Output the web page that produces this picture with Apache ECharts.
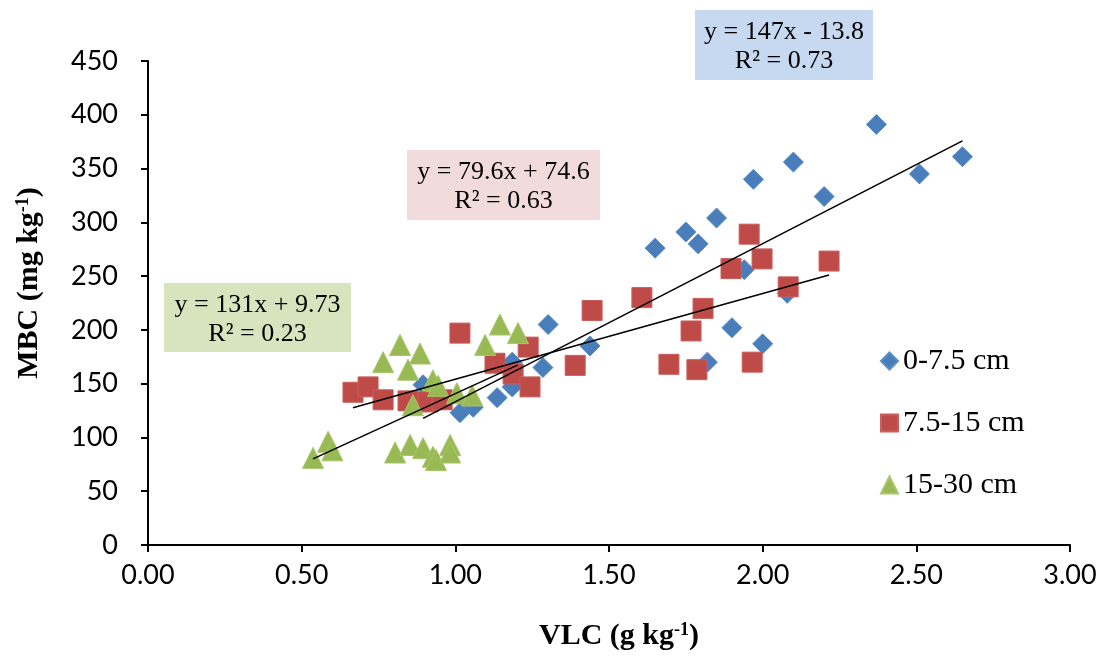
<!DOCTYPE html>
<html>
<head>
<meta charset="utf-8">
<script src="https://cdn.jsdelivr.net/npm/echarts@6/dist/echarts.min.js"></script>
<style>html,body{margin:0;padding:0;background:#fff;}#c{width:1102px;height:661px;}</style>
</head>
<body>
<div id="c"></div>
<script>
// ---- data ----
const seriesNames = ['0-7.5 cm', '7.5-15 cm', '15-30 cm'];
const vlc0 = [0.895,1.015,1.058,1.136,1.185,1.185,1.285,1.302,1.438,1.65,1.75,1.79,1.85,1.82,1.90,1.94,2.00,1.97,2.08,2.10,2.20,2.37,2.51,2.65];
const mbc0 = [149,123,128,137,147,170,165,205,185,276,291,280,304,170,202,256,187,340,234,356,324,391,345,361];
const vlc1 = [0.667,0.716,0.765,0.846,0.911,0.957,1.015,1.129,1.188,1.237,1.243,1.39,1.445,1.607,1.695,1.767,1.786,1.806,1.897,1.956,1.966,1.998,2.083,2.216];
const mbc1 = [142,147,135,134,133,135,197,169,159,184,147,167,218,230,168,199,163,220,257,289,170,266,240,264];
const vlc2 = [0.537,0.586,0.60,0.765,0.804,0.82,0.846,0.853,0.862,0.885,0.895,0.927,0.944,0.927,0.937,0.983,0.983,1.005,1.055,1.097,1.145,1.204];
const mbc2 = [81,96,88,170,86,186,163,93,130,178,90,153,148,82,79,93,86,141,139,186,205,197];
const slopes = [147, 79.6, 131];
const intercepts = [-13.8, 74.6, 9.73];
const eqTexts = ['y = 147x - 13.8', 'y = 79.6x + 74.6', 'y = 131x + 9.73'];
const r2Texts = ['R² = 0.73', 'R² = 0.63', 'R² = 0.23'];
const xTicks = [0, 0.5, 1, 1.5, 2, 2.5, 3];
const yTicks = [0, 50, 100, 150, 200, 250, 300, 350, 400, 450];

// ---- build ----
const xs = [vlc0, vlc1, vlc2];
const ys = [mbc0, mbc1, mbc2];
const colors = ['#4a7ebb', '#be4b48', '#98b954'];
const borders = ['#5a8cc6', '#c95e5b', '#a8c66a'];
const symbols = ['diamond', 'rect', 'triangle'];
const sizes = [20, 20, 21];

const series = [];
for (let i = 0; i < 3; i++) {
  series.push({
    name: seriesNames[i], type: 'scatter', symbol: symbols[i], symbolSize: sizes[i],
    data: xs[i].map((x, k) => [x, ys[i][k]]),
    itemStyle: { color: colors[i], borderColor: borders[i], borderWidth: 1, opacity: 1 },
    z: 2 + i
  });
}
for (let i = 0; i < 3; i++) {
  const x0 = Math.min(...xs[i]), x1 = Math.max(...xs[i]);
  series.push({
    name: 'trend' + i, type: 'line', symbol: 'none', silent: true,
    data: [[x0, slopes[i] * x0 + intercepts[i]], [x1, slopes[i] * x1 + intercepts[i]]],
    lineStyle: { color: '#000', width: 1.6 }, z: 10
  });
}

const boxes = [
  { left: 695, top: 10, w: 178, h: 70, fill: '#c6d9f1' },
  { left: 407, top: 150, w: 193, h: 70, fill: '#f2dcdb' },
  { left: 164, top: 283, w: 187, h: 69, fill: '#d7e4bd' }
];
const graphic = [];
boxes.forEach((b, i) => {
  graphic.push({ type: 'rect', left: b.left, top: b.top, shape: { width: b.w, height: b.h }, style: { fill: b.fill }, z: 0 });
  graphic.push({ type: 'text', x: b.left + b.w / 2, y: b.top + 22, style: { text: eqTexts[i], fill: '#000', font: '26px "Liberation Serif"', textAlign: 'center', textVerticalAlign: 'middle' }, z: 1 });
  graphic.push({ type: 'text', x: b.left + b.w / 2, y: b.top + 51, style: { text: r2Texts[i], fill: '#000', font: '26px "Liberation Serif"', textAlign: 'center', textVerticalAlign: 'middle' }, z: 1 });
});

const titleRich = {
  b: { fontFamily: 'Liberation Serif', fontWeight: 'bold', fontSize: 30, color: '#000' },
  s: { fontFamily: 'Liberation Serif', fontWeight: 'bold', fontSize: 18, color: '#000', verticalAlign: 'top', padding: [0, 0, 12, 0] }
};

const chart = echarts.init(document.getElementById('c'));
chart.setOption({
  animation: false,
  backgroundColor: '#fff',
  grid: { left: 148, right: 32, top: 61, bottom: 116, containLabel: false },
  legend: {
    data: seriesNames, orient: 'vertical', left: 875, top: 341, itemGap: 32,
    itemWidth: 17, itemHeight: 17,
    textStyle: { fontFamily: 'Liberation Serif', fontSize: 30, color: '#000', padding: [0, 0, 0, 0] }
  },
  xAxis: {
    type: 'value', min: xTicks[0], max: xTicks[xTicks.length - 1], interval: 0.5,
    axisLine: { lineStyle: { color: '#000', width: 2 } },
    axisTick: { show: true, length: 7, lineStyle: { color: '#000', width: 2 } },
    splitLine: { show: false },
    axisLabel: { formatter: v => v.toFixed(2), fontFamily: 'Lato', fontSize: 27, color: '#000', margin: 17 },
    name: '{b|VLC (g kg}{s|-1}{b|)}', nameLocation: 'middle', nameGap: 76,
    nameTextStyle: { rich: titleRich, padding: [0, 0, 0, 20] }
  },
  yAxis: {
    type: 'value', min: yTicks[0], max: yTicks[yTicks.length - 1], interval: 50,
    axisLine: { show: true, lineStyle: { color: '#000', width: 2 } },
    axisTick: { show: true, length: 7, lineStyle: { color: '#000', width: 2 } },
    splitLine: { show: false },
    axisLabel: { fontFamily: 'Lato', fontSize: 27, color: '#000', margin: 30 },
    name: '{b|MBC (mg kg}{s|-1}{b|)}', nameLocation: 'middle', nameGap: 104, nameRotate: 90,
    nameTextStyle: { rich: titleRich, padding: [0, 0, 0, 40] }
  },
  graphic: graphic,
  series: series
});
</script>
</body>
</html>
